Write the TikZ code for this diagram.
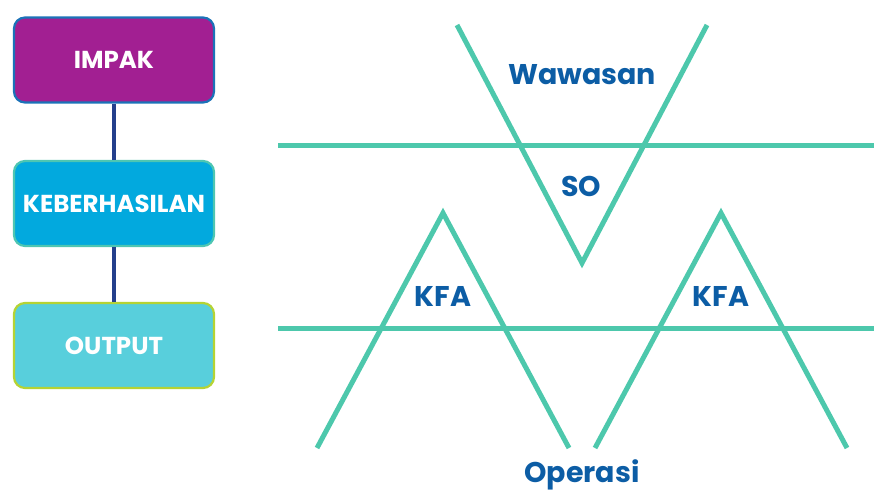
\documentclass[tikz,border=0pt]{standalone}
\usepackage{fontspec}
\setmainfont{Poppins}
\usetikzlibrary{positioning}

\definecolor{impakfill}{HTML}{A21F92}
\definecolor{impakline}{HTML}{1B72B8}
\definecolor{keberfill}{HTML}{02A9DE}
\definecolor{keberline}{HTML}{4EC6B2}
\definecolor{outfill}{HTML}{58CFDC}
\definecolor{outline}{HTML}{B5D334}
\definecolor{navy}{HTML}{243F8C}
\definecolor{teal}{HTML}{4DC8AC}
\definecolor{txtblue}{HTML}{0C5DA5}

\begin{document}
\begin{tikzpicture}[x=1pt,y=-1pt]
\tikzset{box/.style={draw,line width=2.2pt,rounded corners=11pt,minimum width=200pt,minimum height=85pt,
           text=white,font=\bfseries\fontsize{24.5}{28}\selectfont},
         tri/.style={teal,line width=5pt},
         lbl/.style={text=txtblue,font=\bfseries\fontsize{28.5}{32}\selectfont}};
   \useasboundingbox (0,0) rectangle (874,495);

   % levels on the left
   \node[box,fill=impakfill,draw=impakline] at (114,60) (impak) {IMPAK};
   \node[box,fill=keberfill,draw=keberline] at (114,203.5) (keber) {KEBERHASILAN};
   \node[box,fill=outfill,draw=outline] at (114,345.5) (output) {OUTPUT};

   \draw[navy,line width=4pt] (impak) -- (keber);
   \draw[navy,line width=4pt] (keber) -- (output);

   % horizontal bands
   \draw[tri] (278,145.5) -- (874,145.5);
   \draw[tri] (278,328) -- (874,328);

   % V and the two peaks
   \draw[tri] (457,25) -- (582,263) -- (707,25);
   \draw[tri] (317,448) -- (443,213) -- (569,448);
   \draw[tri] (595,448) -- (721,213) -- (847,448);

   \node[lbl] at (582,75) (wawasan) {Wawasan};
   \node[lbl] at (581,186) (so) {SO};
   \node[lbl] at (443,296) (kfa1) {KFA};
   \node[lbl] at (721,296) (kfa2) {KFA};
   \node[lbl] at (582,475) (operasi) {Operasi};

\end{tikzpicture}
\end{document}
